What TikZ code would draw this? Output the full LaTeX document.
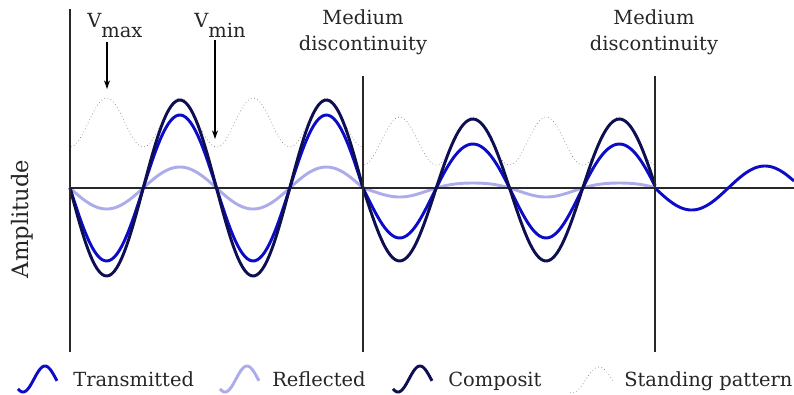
\documentclass[tikz,border=0pt]{standalone}
\usepackage{fontspec}
\setmainfont{DejaVu Serif}
\usetikzlibrary{arrows.meta}
\definecolor{transc}{RGB}{12,12,200}
\definecolor{reflc}{RGB}{172,172,235}
\definecolor{compc}{RGB}{14,14,82}
\definecolor{standc}{RGB}{120,120,120}
\definecolor{linec}{RGB}{40,40,40}
\tikzset{
  transw/.style={draw=transc, line width=2.2pt},
  reflw/.style={draw=reflc, line width=2.2pt},
  compw/.style={draw=compc, line width=2.2pt},
  standw/.style={draw=standc, line width=0.5pt, dotted},
  axisl/.style={draw=linec, line width=1.4pt},
  vline/.style={draw=linec, line width=1pt},
  lbl/.style={font=\fontsize{14.6}{19.5}\selectfont, text=black!85, inner sep=0pt},
  pointer/.style={draw=black, line width=0.8pt, -{Stealth[length=6.5pt,width=4.5pt]}},
}
\begin{document}
\begin{tikzpicture}[x=0.75pt,y=-0.75pt]
\useasboundingbox (0,0) rectangle (794,394);
% standing pattern
\draw[standw] plot[domain=71:362, samples=150] (\x,{122.5+24.5*cos(4.91468*(\x-70))});
\draw[standw] plot[domain=364:654, samples=150] (\x,{141+24*cos(4.91468*(\x-363))});
% reflected
\draw[reflw] plot[domain=70:363, samples=120] (\x,{188+21*sin(2.45734*(\x-70))});
\draw[reflw] plot[domain=363:655, samples=120] (\x,{188+7*sin(2.45734*(\x-363))+2*sin(2.45734*(\x-363))^2});
% axis
\draw[axisl] (70,188) -- (794,188);
% transmitted
\draw[transw] plot[domain=70:363, samples=120] (\x,{188+73*sin(2.45734*(\x-70))});
\draw[transw] plot[domain=363:655, samples=120] (\x,{188+47*sin(2.45734*(\x-363))+3*sin(2.45734*(\x-363))^2});
\draw[transw] plot[domain=655:794, samples=80] (\x,{188+22*sin(2.45734*(\x-655))});
% composite
\draw[compw] plot[domain=70:363, samples=120] (\x,{188+88*sin(2.45734*(\x-70))});
\draw[compw] plot[domain=363:655, samples=120] (\x,{188+71*sin(2.45734*(\x-363))+2*sin(2.45734*(\x-363))^2});
% vertical lines
\draw[vline] (70,9) -- (70,352);
\draw[vline] (363,76) -- (363,352);
\draw[vline] (655,76) -- (655,352);
% labels
\node[lbl, anchor=base west] (vmax) at (87,27) {V\raisebox{-7.5pt}{max}};
\node[lbl, anchor=base west] (vmin) at (194,27) {V\raisebox{-7.5pt}{min}};
\coordinate (vmaxtip) at (107,89);
\coordinate (vmintip) at (215,139);
\coordinate (vmaxtail) at (107,42);
\coordinate (vmintail) at (215,40);
\draw[pointer] (vmaxtail) -- (vmaxtip);
\draw[pointer] (vmintail) -- (vmintip);
\node[lbl, align=center, anchor=base] (disc1) at (363,50) {Medium\\discontinuity};
\node[lbl, align=center, anchor=base] (disc2) at (654,50) {Medium\\discontinuity};
\node[lbl, font=\fontsize{17}{20}\selectfont, rotate=90, anchor=center] (amp) at (22,219) {Amplitude};
% legend
\draw[transw] plot[domain=18:57, samples=60] (\x,{379-13*sin(270+(\x-23)*8.1818)});
\draw[reflw] plot[domain=220:259, samples=60] (\x,{379-13*sin(270+(\x-225)*8.1818)});
\draw[compw] plot[domain=393:432, samples=60] (\x,{379-13*sin(270+(\x-398)*8.1818)});
\draw[standw] plot[domain=570:613, samples=60] (\x,{380-13*sin(270+(\x-572)*6.6667)});
\node[lbl, anchor=base west] (ltrans) at (73,386) {Transmitted};
\node[lbl, anchor=base west] (lrefl) at (272,386) {Reflected};
\node[lbl, anchor=base west] (lcomp) at (448,386) {Composit};
\node[lbl, anchor=base west] (lstand) at (624,386) {Standing pattern};
\end{tikzpicture}
\end{document}
